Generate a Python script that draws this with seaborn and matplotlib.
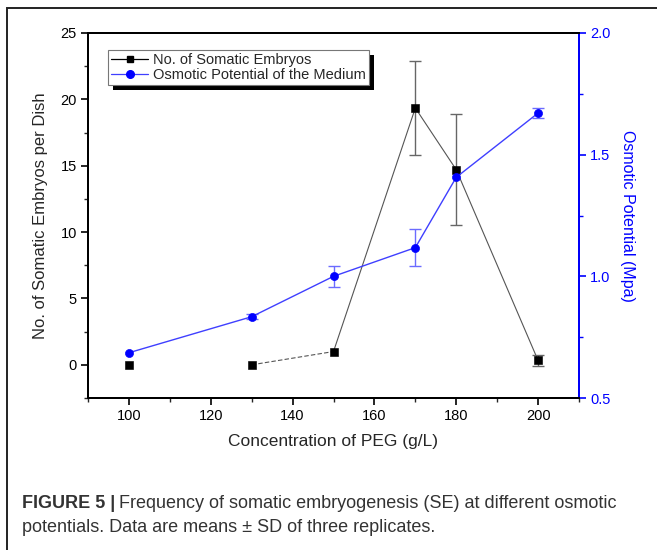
import matplotlib
matplotlib.use("Agg")
import matplotlib.pyplot as plt
from matplotlib.lines import Line2D
from matplotlib.patches import Rectangle
from matplotlib.ticker import MultipleLocator
import seaborn as sns
import pandas as pd

# data
peg = [100, 130, 150, 170, 180, 200]
embryos = [0.0, 0.0, 1.0, 19.35, 14.7, 0.33]
embryos_sd = [0.0, 0.0, 0.0, 3.55, 4.17, 0.4]
osmotic = [0.686, 0.834, 1.0, 1.118, 1.407, 1.671]
osmotic_sd = [0.0, 0.01, 0.042, 0.077, 0.0, 0.019]

sns.set_theme(style="ticks")
plt.rcParams["font.family"] = ["Liberation Sans", "DejaVu Sans"]

df = pd.DataFrame({"peg": peg, "emb": embryos, "emb_sd": embryos_sd,
                   "osm": osmotic, "osm_sd": osmotic_sd})

fig = plt.figure(figsize=(6.57, 5.5), dpi=100)
ax = fig.add_axes([88 / 657, 1 - 398 / 550, (579 - 88) / 657, (398 - 33) / 550])
ax2 = ax.twinx()

black = "#000000"
line_gray = "#555555"
blue = "#0000ff"
line_blue = "#3f3fff"

# black series: 100 is not joined, 130-150 dashed, rest solid
sns.lineplot(data=df.iloc[1:3], x="peg", y="emb", ax=ax, color=line_gray,
             linewidth=0.8, linestyle=(0, (4, 2)), zorder=2)
sns.lineplot(data=df.iloc[2:], x="peg", y="emb", ax=ax, color=line_gray,
             linewidth=0.8, zorder=2)
e1 = df[df["emb_sd"] > 0]
ax.errorbar(e1["peg"], e1["emb"], yerr=e1["emb_sd"], fmt="none",
            ecolor="#666666", elinewidth=1, capsize=4, capthick=1, zorder=2)
sns.scatterplot(data=df, x="peg", y="emb", ax=ax, marker="s", s=28,
                color=black, edgecolor=black, zorder=3)

# blue series
e2 = df[df["osm_sd"] > 0]
ax2.errorbar(e2["peg"], e2["osm"], yerr=e2["osm_sd"], fmt="none",
             ecolor="#6b6bff", elinewidth=1, capsize=4, capthick=1, zorder=2)
sns.lineplot(data=df, x="peg", y="osm", ax=ax2, color=line_blue,
             linewidth=1.0, zorder=2)
sns.scatterplot(data=df, x="peg", y="osm", ax=ax2, marker="o", s=34,
                color=blue, edgecolor=blue, zorder=3)

ax.set_xlim(90, 210)
ax.set_ylim(-2.5, 25)
ax2.set_ylim(0.5, 2.0)
ax.xaxis.set_major_locator(MultipleLocator(20))
ax.xaxis.set_minor_locator(MultipleLocator(10))
ax.yaxis.set_major_locator(MultipleLocator(5))
ax.yaxis.set_minor_locator(MultipleLocator(2.5))
ax2.yaxis.set_major_locator(MultipleLocator(0.5))
ax2.yaxis.set_minor_locator(MultipleLocator(0.25))
ax.set_xticks([100, 120, 140, 160, 180, 200])

ax.set_xlabel("Concentration of PEG (g/L)", fontsize=12.5, labelpad=8)
ax.set_ylabel("No. of Somatic Embryos per Dish", fontsize=12, labelpad=9)
ax2.set_ylabel("Osmotic Potential (Mpa)", fontsize=11.5, color=blue,
               rotation=270, labelpad=18)

for a in (ax, ax2):
    for sp in a.spines.values():
        sp.set_linewidth(1.4)
        sp.set_color(black)
ax2.spines["right"].set_color(blue)
ax.tick_params(axis="both", which="major", direction="out", length=5,
               width=1.2, labelsize=10.5, colors=black, pad=3)
ax.tick_params(axis="both", which="minor", direction="out", length=3,
               width=1.0)
ax2.tick_params(axis="y", which="major", direction="out", length=5,
                width=1.2, labelsize=10.5, colors=blue, pad=3)
ax2.tick_params(axis="y", which="minor", direction="out", length=3,
                width=1.0, colors=blue)

handles = [
    Line2D([], [], color=black, linewidth=0.9, marker="s", markersize=5,
           markerfacecolor=black, markeredgecolor=black),
    Line2D([], [], color=line_blue, linewidth=0.9, marker="o", markersize=5.5,
           markerfacecolor=blue, markeredgecolor=blue),
]
ax2.set_zorder(ax.get_zorder() + 1)
ax2.patch.set_visible(False)
leg = ax2.legend(handles, ["No. of Somatic Embryos", "Osmotic Potential of the Medium"],
                 loc="upper left", bbox_to_anchor=(0.04, 0.953), fontsize=10.5,
                 frameon=True, fancybox=False, shadow=False,
                 borderpad=0.2, labelspacing=0.05, handlelength=2.6,
                 handletextpad=0.3, borderaxespad=0)
leg.get_frame().set_edgecolor("#777777")
leg.get_frame().set_linewidth(0.8)
leg.get_frame().set_alpha(1)
leg.set_zorder(10)

# figure frame
fig.add_artist(Rectangle((7 / 657, -0.2), 1.2, 1.2 - 8 / 550,
                         transform=fig.transFigure, fill=False,
                         edgecolor="#222222", linewidth=1.4))

# caption
cap_color = "#333333"
t1 = fig.text(22 / 657, 1 - 504 / 550, "FIGURE 5 |", fontsize=13,
              fontweight="bold", color=cap_color, va="center")
fig.canvas.draw()
renderer = fig.canvas.get_renderer()
bb = t1.get_window_extent(renderer)
fig.text(bb.x1 / fig.bbox.width + 4 / 657, 1 - 504 / 550,
         "Frequency of somatic embryogenesis (SE) at different osmotic",
         fontsize=13, color=cap_color, va="center")
fig.text(22 / 657, 1 - 528 / 550,
         "potentials. Data are means \u00b1 SD of three replicates.",
         fontsize=13, color=cap_color, va="center")

# solid black drop shadow behind the legend box
lb = leg.get_frame().get_window_extent(renderer)
inv = ax2.transAxes.inverted()
(x0, y0) = inv.transform((lb.x0 + 5, lb.y0 - 5))
(x1, y1) = inv.transform((lb.x1 + 5, lb.y1 - 5))
ax2.add_patch(Rectangle((x0, y0), x1 - x0, y1 - y0, transform=ax2.transAxes,
                        facecolor="black", edgecolor="none", zorder=9,
                        clip_on=False))

fig.savefig("out.png", dpi=100)
